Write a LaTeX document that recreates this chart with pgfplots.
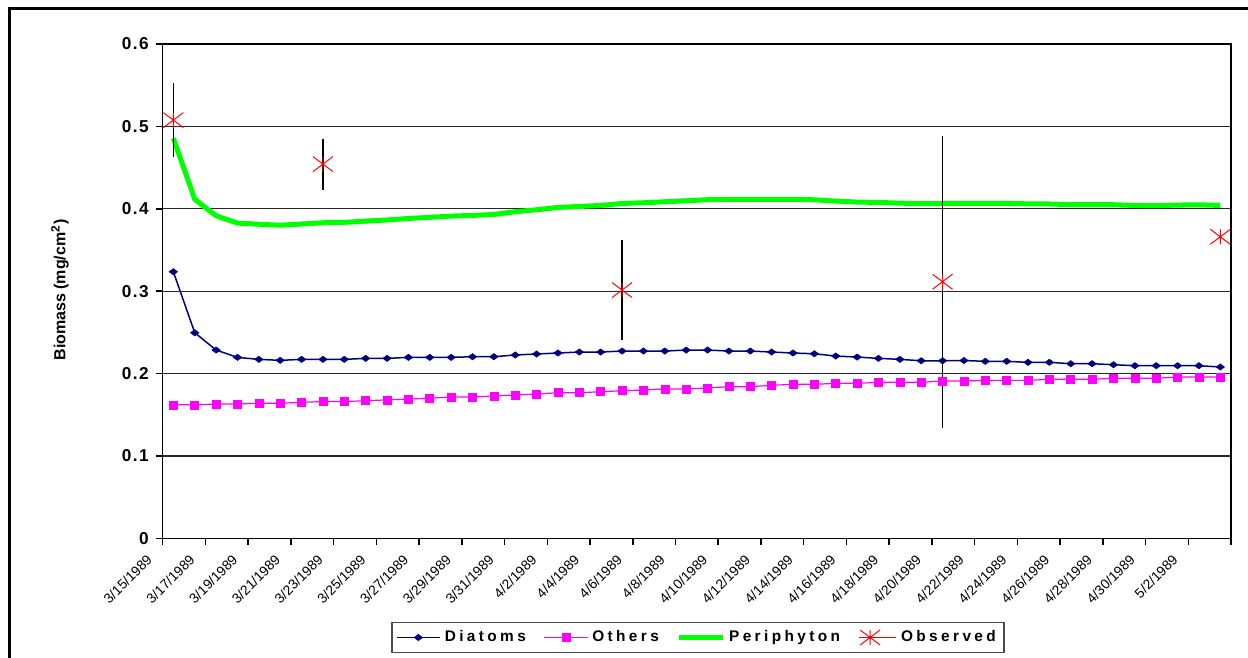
\documentclass[border=0pt]{standalone}
\usepackage{fontspec}
\setmainfont{Liberation Sans}
\usepackage{pgfplots}
\usepackage{pgfplotstable}
\pgfplotsset{compat=1.18}
\definecolor{dnavy}{RGB}{0,0,128}
\definecolor{omag}{RGB}{255,0,255}
\definecolor{pgreen}{RGB}{0,255,0}
\definecolor{ored}{RGB}{255,0,0}
\pgfplotsset{obs legend/.style={legend image code/.code={\path (0cm,0cm) -- (0.66cm,0cm); \draw[##1] plot coordinates {(0.2cm,0cm)};}}}
\pgfdeclareplotmark{xdiamond}{%
  \pgfpathmoveto{\pgfqpoint{0pt}{0.75\pgfplotmarksize}}%
  \pgfpathlineto{\pgfqpoint{\pgfplotmarksize}{0pt}}%
  \pgfpathlineto{\pgfqpoint{0pt}{-0.75\pgfplotmarksize}}%
  \pgfpathlineto{\pgfqpoint{-\pgfplotmarksize}{0pt}}%
  \pgfpathclose\pgfusepathqfillstroke}
\pgfdeclareplotmark{xstar}{%
  \pgfpathmoveto{\pgfqpoint{-\pgfplotmarksize}{-0.75\pgfplotmarksize}}%
  \pgfpathlineto{\pgfqpoint{\pgfplotmarksize}{0.75\pgfplotmarksize}}%
  \pgfpathmoveto{\pgfqpoint{-\pgfplotmarksize}{0.75\pgfplotmarksize}}%
  \pgfpathlineto{\pgfqpoint{\pgfplotmarksize}{-0.75\pgfplotmarksize}}%
  \pgfpathmoveto{\pgfqpoint{0pt}{-0.75\pgfplotmarksize}}%
  \pgfpathlineto{\pgfqpoint{0pt}{0.75\pgfplotmarksize}}%
  \pgfusepathqstroke}
\pgfplotstableread{
x d o p
0 0.3235 0.162 0.4855
1 0.2495 0.162 0.4115
2 0.2285 0.163 0.3915
3 0.2196 0.163 0.3826
4 0.2172 0.164 0.3812
5 0.2160 0.164 0.3800
6 0.2172 0.165 0.3815
7 0.2172 0.166 0.3830
8 0.2172 0.166 0.3835
9 0.2184 0.167 0.3850
10 0.2184 0.168 0.3864
11 0.2196 0.169 0.3882
12 0.2196 0.170 0.3896
13 0.2196 0.1715 0.3911
14 0.2204 0.1715 0.3919
15 0.2204 0.1727 0.3931
16 0.2225 0.1739 0.3964
17 0.2237 0.1751 0.3988
18 0.2249 0.1767 0.4016
19 0.2261 0.1767 0.4028
20 0.2261 0.1779 0.4040
21 0.2273 0.1791 0.4064
22 0.2273 0.1800 0.4073
23 0.2273 0.1812 0.4085
24 0.2285 0.1812 0.4097
25 0.2285 0.1825 0.4110
26 0.2273 0.1840 0.4113
27 0.2273 0.1840 0.4113
28 0.2261 0.1857 0.4115
29 0.2249 0.1869 0.4115
30 0.2240 0.1869 0.4109
31 0.2212 0.1881 0.4093
32 0.2200 0.1881 0.4081
33 0.2184 0.1893 0.4077
34 0.2172 0.1893 0.4068
35 0.2155 0.1893 0.4062
36 0.2155 0.1909 0.4064
37 0.2158 0.1909 0.4066
38 0.2148 0.1917 0.4065
39 0.2148 0.1917 0.4065
40 0.2136 0.1917 0.4060
41 0.2136 0.1930 0.4058
42 0.2119 0.1930 0.4050
43 0.2119 0.1930 0.4049
44 0.2107 0.1942 0.4049
45 0.2095 0.1942 0.4040
46 0.2095 0.1942 0.4037
47 0.2095 0.1958 0.4045
48 0.2095 0.1958 0.4048
49 0.2079 0.1958 0.4040
}\modeldata
\pgfplotstableread{
x y e
0 0.5076 0.045
7 0.4542 0.031
21 0.3013 0.061
36 0.3114 0.177
49 0.3660 0
}\obsdata
\begin{document}
\begin{tikzpicture}
\useasboundingbox (0,0) rectangle (624pt,329pt);
\draw[line width=1.5pt] (4.5pt,0) -- (4.5pt,324.5pt) -- (624pt,324.5pt);
\begin{axis}[
  at={(81.35pt,59.85pt)}, anchor=south west,
  scale only axis, width=534.15pt, height=247.15pt,
  xmin=-0.5, xmax=49.5, ymin=0, ymax=0.6,
  clip=false,
  axis line style={line width=0.75pt, black},
  tick style={line width=0.75pt, black},
  tick align=outside, major tick length=3.5pt,
  xtick={-0.5,1.5,...,49.5},
  xticklabels={3/15/1989,3/17/1989,3/19/1989,3/21/1989,3/23/1989,3/25/1989,3/27/1989,3/29/1989,3/31/1989,4/2/1989,4/4/1989,4/6/1989,4/8/1989,4/10/1989,4/12/1989,4/14/1989,4/16/1989,4/18/1989,4/20/1989,4/22/1989,4/24/1989,4/26/1989,4/28/1989,4/30/1989,5/2/1989,{}},
  ytick={0,0.1,...,0.6},
  yticklabels={0,0.1,0.2,0.3,0.4,0.5,0.6},
  xtick pos=bottom, ytick pos=left,
  ymajorgrids, grid style={line width=0.6pt, black!85},
  yticklabel style={font=\bfseries\fontsize{8.6}{10}\selectfont\addfontfeature{LetterSpace=8}},
  xticklabel style={font=\fontsize{6.9}{8}\selectfont, xshift=-6.5pt, yshift=-6pt, rotate=45, anchor=east, inner sep=0pt},
  legend style={at={(0.501,-0.2007)}, anchor=center, legend columns=4,
    draw=black!70, line width=0.75pt, inner sep=2pt,
    font=\bfseries\fontsize{7.7}{9}\selectfont\addfontfeature{LetterSpace=22},
    /tikz/every even column/.append style={column sep=7pt}},
  legend image code/.code={\draw[mark repeat=2,mark phase=2,#1] plot coordinates {(0cm,0cm) (0.38cm,0cm) (0.76cm,0cm)};},
]
\addplot[dnavy, line width=0.75pt, mark=xdiamond, mark size=2.1pt, mark options={fill=dnavy, line width=0.3pt}] table[x=x,y=d] {\modeldata};
\addlegendentry{Diatoms}
\addplot[omag, line width=0.6pt, mark=square*, mark size=2pt, mark options={fill=omag, line width=0.3pt}] table[x=x,y=o] {\modeldata};
\addlegendentry{Others}
\addplot[pgreen, line width=2.5pt, no marks] table[x=x,y=p] {\modeldata};
\addlegendentry{Periphyton}
\addplot[only marks, ored, mark=xstar, mark size=5pt, mark options={line width=0.5pt}, obs legend,
  error bars/.cd, y dir=both, y explicit, error mark=none,
  error bar style={black, line width=0.6pt}]
  table[x=x,y=y,y error=e] {\obsdata};
\addlegendentry{Observed}
\end{axis}
\node[rotate=90, font=\bfseries\fontsize{8}{9}\selectfont] at (30pt,184pt) {Biomass (mg/cm\textsuperscript{2})};
\end{tikzpicture}
\end{document}
